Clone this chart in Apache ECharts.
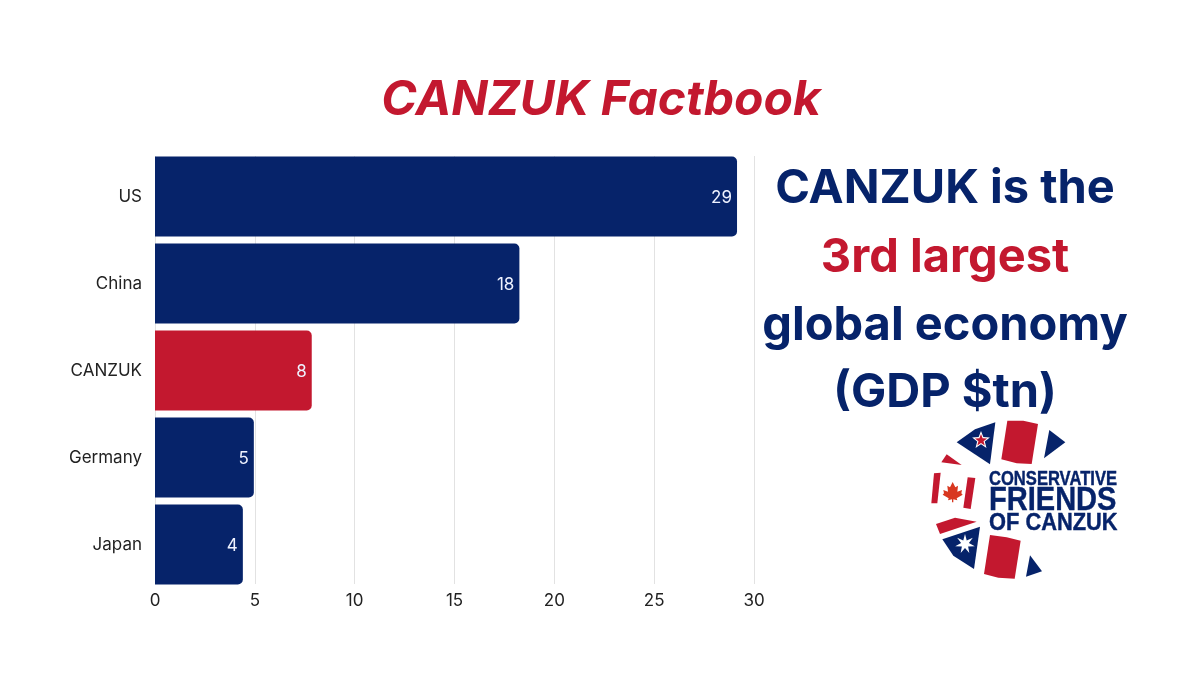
<!DOCTYPE html>
<html>
<head>
<meta charset="utf-8">
<style>html,body{margin:0;padding:0;background:#fff}#main{width:1200px;height:675px}</style>
<script src="https://cdn.jsdelivr.net/npm/echarts@6/dist/echarts.min.js"></script>
</head>
<body>
<div id="main"></div>
<script>
var countries = ['US', 'China', 'CANZUK', 'Germany', 'Japan'];
var gdp = [29.15, 18.25, 7.85, 4.95, 4.4];
var highlighted = 'CANZUK';
var headline = ['CANZUK is the', '3rd largest', 'global economy', '(GDP $tn)'];
var logoLines = ['CONSERVATIVE', 'FRIENDS', 'OF CANZUK'];

var navy = '#06236a';
var red = '#c3182f';

var chartDom = document.getElementById('main');
var myChart = echarts.init(chartDom);

// logo shapes, origin at the logo's top left, 3x scale
function logoShape(points, color) {
  return {
    type: 'polygon',
    x: 920, y: 410, scaleX: 1 / 3, scaleY: 1 / 3,
    shape: { points: points },
    style: { fill: color }
  };
}

function logoStar(cx, cy, outer, inner, count, color) {
  var pts = [];
  for (var i = 0; i < count * 2; i++) {
    var r = i % 2 ? inner : outer;
    var a = -Math.PI / 2 + i * Math.PI / count;
    pts.push([cx + r * Math.cos(a), cy + r * Math.sin(a)]);
  }
  return logoShape(pts, color);
}

var leaf = [[98,216],[106,232],[114,227],[112,245],[126,240],[124,250],[128,254],[110,265],[112,271],[100,268],[100,277],[96,277],[96,268],[84,271],[86,265],[68,254],[72,250],[70,240],[84,245],[82,227],[90,232]];

var logo = [
  logoShape([[110,97],[165,58],[226,37],[210,163]], navy),
  logoStar(183, 91, 28, 12, 5, '#fff'),
  logoStar(183, 91, 19, 8, 5, red),
  logoShape([[262,32],[310,32],[354,42],[335,162],[290,160],[244,148]], red),
  logoShape([[388,60],[436,97],[372,145]], navy),
  logoShape([[64,157],[80,133],[125,165]], red),
  logoShape([[42,190],[62,188],[52,280],[34,280]], red),
  logoShape([[143,202],[166,204],[152,297],[130,293]], red),
  logoShape(leaf, '#d8371f'),
  logoShape([[48,342],[105,323],[170,335],[60,372]], red),
  logoShape([[67,388],[180,350],[162,477],[100,437]], navy),
  logoStar(135, 402, 30, 12, 7, '#fff'),
  logoShape([[210,375],[260,382],[302,392],[284,506],[235,503],[192,492]], red),
  logoShape([[330,436],[366,484],[318,500]], navy)
];

function logoText(text, y, size, scaleX) {
  return {
    type: 'text',
    x: 989, y: y, scaleX: scaleX,
    style: {
      text: text,
      fill: navy,
      stroke: navy,
      lineWidth: 0.4,
      font: 'bold ' + size + 'px "Liberation Sans", sans-serif',
      textVerticalAlign: 'middle'
    }
  };
}

var headlineText = headline.map(function (line, i) {
  return {
    type: 'text',
    x: 945,
    y: [189, 258, 326, 393][i],
    style: {
      text: line,
      fill: i === 1 ? red : navy,
      font: 'bold 47px Inter, sans-serif',
      textAlign: 'center',
      textVerticalAlign: 'middle'
    }
  };
});

var option = {
  animation: false,
  backgroundColor: '#fff',
  title: {
    text: 'CANZUK Factbook',
    left: 596,
    top: 96,
    textAlign: 'center',
    textVerticalAlign: 'middle',
    textStyle: {
      color: red,
      fontFamily: 'Inter, sans-serif',
      fontStyle: 'italic',
      fontWeight: 'bold',
      fontSize: 48
    }
  },
  // second grid only carries the gridlines, they stop short of the first and last bar edge
  grid: [
    { left: 155, top: 153, width: 599, height: 435 },
    { left: 155, top: 156, width: 599, height: 428, z: 0 }
  ],
  xAxis: [
    {
      type: 'value',
      min: 0,
      max: 30,
      interval: 5,
      axisLine: { show: false },
      axisTick: { show: false },
      axisLabel: { color: '#222', fontFamily: 'Inter, sans-serif', fontSize: 17, margin: 4 },
      splitLine: { show: false }
    },
    {
      type: 'value',
      gridIndex: 1,
      min: 0,
      max: 30,
      interval: 5,
      axisLine: { show: false },
      axisTick: { show: false },
      axisLabel: { show: false },
      splitLine: { lineStyle: { color: '#e2e2e2', width: 1 } }
    }
  ],
  yAxis: [
    {
      type: 'category',
      inverse: true,
      data: countries,
      axisLine: { show: false },
      axisTick: { show: false },
      axisLabel: { color: '#222', fontFamily: 'Inter, sans-serif', fontSize: 17, margin: 13 }
    },
    {
      type: 'category',
      gridIndex: 1,
      data: countries,
      show: false
    }
  ],
  series: [
    {
      type: 'bar',
      z: 5,
      barWidth: 80,
      data: gdp.map(function (v, i) {
        return {
          value: v,
          itemStyle: { color: countries[i] === highlighted ? red : navy }
        };
      }),
      itemStyle: { borderRadius: [0, 5, 5, 0] },
      label: {
        show: true,
        position: 'insideRight',
        distance: 5,
        offset: [0, 1],
        color: '#eef2ff',
        fontFamily: 'Inter, sans-serif',
        fontSize: 17,
        formatter: function (params) {
          return Math.round(params.value);
        }
      }
    }
  ],
  graphic: headlineText.concat(logo, [
    logoText(logoLines[0], 480, 19.5, 0.85),
    logoText(logoLines[1], 501, 33, 0.88),
    logoText(logoLines[2], 523, 24, 0.91)
  ])
};

option && myChart.setOption(option);
</script>
</body>
</html>
